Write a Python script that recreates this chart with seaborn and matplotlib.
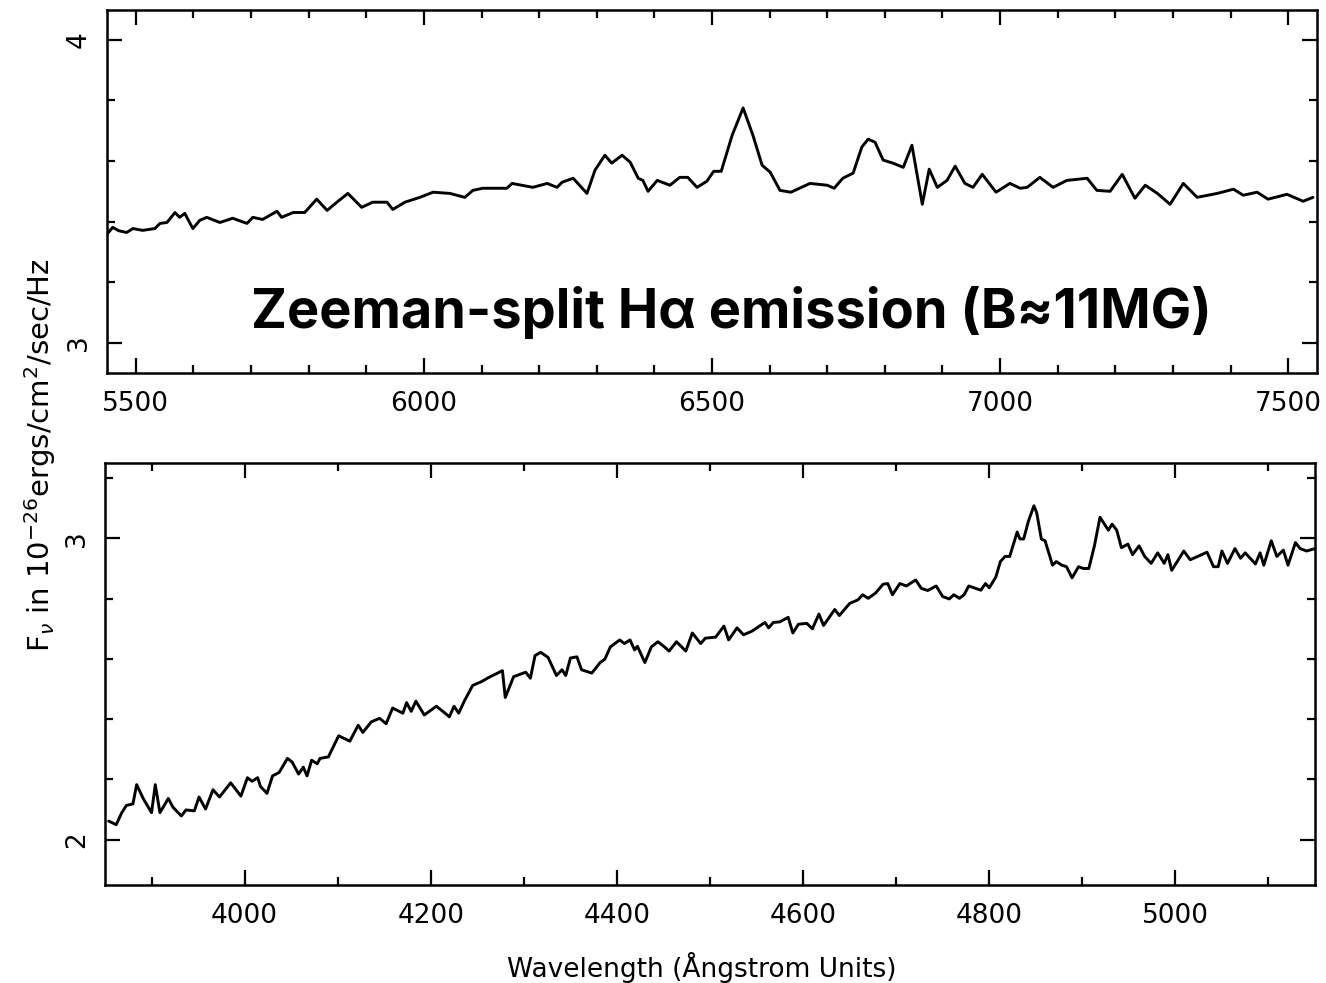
import matplotlib
matplotlib.use("Agg")
import matplotlib.pyplot as plt
import seaborn as sns
import pandas as pd
from matplotlib.ticker import MultipleLocator

# Red part of the spectrum (wavelength in Angstrom, F_nu in 1e-26 erg/cm^2/s/Hz)
red_wavelength = [
    5451, 5460, 5470, 5484, 5495, 5512, 5533, 5542, 5554, 5568, 5576, 5585,
    5599, 5611, 5623, 5646, 5668, 5693, 5703, 5720, 5745, 5753, 5773, 5793,
    5814, 5832, 5849, 5868, 5892, 5911, 5936, 5946, 5967, 5993, 6016, 6045,
    6071, 6085, 6102, 6144, 6153, 6189, 6214, 6231, 6240, 6259, 6283, 6297,
    6314, 6326, 6344, 6358, 6372, 6380, 6389, 6405, 6427, 6444, 6458, 6474,
    6491, 6503, 6516, 6535, 6554, 6571, 6587, 6601, 6618, 6637, 6670, 6700,
    6712, 6727, 6745, 6760, 6771, 6783, 6797, 6814, 6832, 6847, 6865, 6877,
    6891, 6908, 6922, 6939, 6953, 6969, 6993, 7017, 7035, 7047, 7069, 7092,
    7116, 7151, 7168, 7191, 7212, 7234, 7252, 7273, 7295, 7318, 7342, 7377,
    7405, 7422, 7446, 7465, 7498, 7526, 7543,
]
red_flux = [
    3.361, 3.381, 3.370, 3.364, 3.377, 3.371, 3.377, 3.394, 3.397, 3.430, 3.414, 3.427,
    3.377, 3.404, 3.414, 3.397, 3.411, 3.394, 3.414, 3.407, 3.434, 3.414, 3.430, 3.430,
    3.474, 3.437, 3.464, 3.493, 3.447, 3.464, 3.464, 3.440, 3.464, 3.480, 3.497, 3.493,
    3.480, 3.503, 3.510, 3.510, 3.526, 3.513, 3.526, 3.513, 3.530, 3.543, 3.493, 3.570,
    3.619, 3.593, 3.619, 3.596, 3.543, 3.536, 3.500, 3.536, 3.520, 3.546, 3.546, 3.513,
    3.533, 3.566, 3.566, 3.685, 3.775, 3.685, 3.586, 3.563, 3.503, 3.497, 3.526, 3.520,
    3.510, 3.543, 3.560, 3.646, 3.672, 3.662, 3.603, 3.593, 3.579, 3.652, 3.457, 3.573,
    3.513, 3.536, 3.583, 3.526, 3.513, 3.556, 3.497, 3.526, 3.510, 3.513, 3.546, 3.513,
    3.536, 3.543, 3.503, 3.500, 3.556, 3.477, 3.520, 3.493, 3.457, 3.526, 3.480, 3.493,
    3.507, 3.487, 3.497, 3.474, 3.490, 3.467, 3.480,
]

# Blue part of the spectrum
blue_wavelength = [
    3854, 3862, 3868, 3873, 3880, 3884, 3891, 3900, 3904, 3909, 3918, 3923,
    3932, 3937, 3946, 3951, 3958, 3966, 3973, 3985, 3996, 4003, 4008, 4014,
    4017, 4024, 4030, 4037, 4046, 4051, 4058, 4063, 4067, 4072, 4078, 4081,
    4090, 4101, 4113, 4122, 4127, 4136, 4145, 4152, 4159, 4170, 4174, 4179,
    4184, 4193, 4206, 4213, 4220, 4225, 4230, 4236, 4245, 4254, 4262, 4277,
    4280, 4289, 4302, 4307, 4312, 4318, 4326, 4335, 4341, 4345, 4350, 4357,
    4362, 4373, 4382, 4387, 4393, 4403, 4408, 4414, 4419, 4422, 4430, 4437,
    4444, 4451, 4456, 4464, 4474, 4481, 4490, 4495, 4506, 4515, 4520, 4529,
    4536, 4545, 4559, 4563, 4568, 4575, 4584, 4589, 4595, 4604, 4610, 4617,
    4622, 4634, 4639, 4650, 4659, 4664, 4670, 4678, 4686, 4691, 4696, 4704,
    4711, 4721, 4727, 4734, 4743, 4750, 4757, 4762, 4768, 4773, 4778, 4791,
    4796, 4800, 4807, 4812, 4817, 4822, 4830, 4833, 4837, 4842, 4848, 4851,
    4856, 4860, 4868, 4872, 4878, 4883, 4889, 4896, 4901, 4907, 4913, 4919,
    4928, 4932, 4937, 4942, 4949, 4954, 4961, 4967, 4974, 4981, 4988, 4992,
    4996, 5002, 5009, 5016, 5034, 5041, 5046, 5050, 5056, 5064, 5070, 5075,
    5086, 5091, 5095, 5103, 5109, 5116, 5121, 5129, 5134, 5141, 5150,
]
blue_flux = [
    2.062, 2.050, 2.090, 2.114, 2.119, 2.183, 2.137, 2.090, 2.183, 2.090, 2.137, 2.108,
    2.079, 2.099, 2.096, 2.142, 2.102, 2.166, 2.142, 2.189, 2.145, 2.206, 2.194, 2.206,
    2.177, 2.154, 2.212, 2.223, 2.270, 2.258, 2.218, 2.241, 2.212, 2.264, 2.252, 2.270,
    2.275, 2.345, 2.327, 2.380, 2.356, 2.391, 2.403, 2.385, 2.437, 2.420, 2.455, 2.426,
    2.460, 2.414, 2.443, 2.426, 2.408, 2.443, 2.420, 2.460, 2.512, 2.524, 2.538, 2.561,
    2.472, 2.541, 2.556, 2.536, 2.611, 2.622, 2.605, 2.545, 2.564, 2.545, 2.603, 2.607,
    2.564, 2.553, 2.588, 2.599, 2.640, 2.663, 2.651, 2.663, 2.630, 2.642, 2.588, 2.640,
    2.657, 2.640, 2.626, 2.657, 2.626, 2.686, 2.651, 2.669, 2.672, 2.709, 2.663, 2.703,
    2.680, 2.692, 2.721, 2.703, 2.721, 2.723, 2.738, 2.686, 2.715, 2.718, 2.700, 2.749,
    2.711, 2.764, 2.744, 2.784, 2.796, 2.813, 2.801, 2.819, 2.848, 2.850, 2.813, 2.850,
    2.842, 2.862, 2.834, 2.827, 2.842, 2.807, 2.799, 2.813, 2.801, 2.813, 2.842, 2.828,
    2.850, 2.836, 2.871, 2.923, 2.940, 2.940, 3.021, 2.998, 2.998, 3.056, 3.108, 3.085,
    2.998, 2.992, 2.911, 2.923, 2.911, 2.906, 2.869, 2.906, 2.900, 2.900, 2.975, 3.070,
    3.027, 3.047, 3.027, 2.969, 2.981, 2.946, 2.975, 2.940, 2.917, 2.952, 2.917, 2.946,
    2.894, 2.923, 2.958, 2.929, 2.954, 2.906, 2.906, 2.958, 2.917, 2.966, 2.934, 2.952,
    2.915, 2.952, 2.911, 2.992, 2.940, 2.961, 2.911, 2.986, 2.966, 2.958, 2.966,
]

annotation = "Zeeman-split H\u03b1 emission (B\u224811MG)"
y_label = r"F$_\nu$ in 10$^{-26}$ergs/cm$^2$/sec/Hz"
x_label = "Wavelength (\u00c5ngstrom Units)"

sns.set_style("ticks")
plt.rcParams["font.family"] = ["DejaVu Sans"]
plt.rcParams["mathtext.fontset"] = "dejavusans"
for key in ("text.color", "axes.labelcolor", "xtick.color", "ytick.color",
            "axes.edgecolor"):
    plt.rcParams[key] = "black"

red = pd.DataFrame({"wavelength": red_wavelength, "flux": red_flux})
blue = pd.DataFrame({"wavelength": blue_wavelength, "flux": blue_flux})

fig = plt.figure(figsize=(13.26, 9.83), dpi=100)
fig.patch.set_facecolor("white")
ax1 = fig.add_axes([0.0807, 0.6205, 0.9125, 0.3698])
ax2 = fig.add_axes([0.0792, 0.0997, 0.9125, 0.4293])

line_kw = dict(color="black", linewidth=2.1, estimator=None, sort=False)
sns.lineplot(data=red, x="wavelength", y="flux", ax=ax1, **line_kw)
sns.lineplot(data=blue, x="wavelength", y="flux", ax=ax2, **line_kw)

ax1.set_xlim(5450, 7550)
ax1.set_ylim(2.9, 4.1)
ax1.xaxis.set_major_locator(MultipleLocator(500))
ax1.xaxis.set_minor_locator(MultipleLocator(100))
ax1.yaxis.set_major_locator(MultipleLocator(1))
ax1.yaxis.set_minor_locator(MultipleLocator(0.2))

ax2.set_xlim(3850, 5150)
ax2.set_ylim(1.85, 3.25)
ax2.xaxis.set_major_locator(MultipleLocator(200))
ax2.xaxis.set_minor_locator(MultipleLocator(100))
ax2.yaxis.set_major_locator(MultipleLocator(1))
ax2.yaxis.set_minor_locator(MultipleLocator(0.2))

for ax in (ax1, ax2):
    ax.set_xlabel("")
    ax.set_ylabel("")
    ax.set_facecolor("white")
    for sp in ax.spines.values():
        sp.set_visible(True)
        sp.set_linewidth(1.8)
        sp.set_color("black")
    ax.tick_params(which="both", direction="in", top=True, right=True,
                   width=1.6, color="black", labelsize=19, labelcolor="black",
                   pad=13)
    ax.tick_params(which="major", length=11)
    ax.tick_params(which="minor", length=6)
    ax.tick_params(axis="y", labelrotation=90, pad=11)
    for lab in ax.get_yticklabels():
        lab.set_va("center")

ax1.text(0.516, 0.124, annotation, transform=ax1.transAxes, ha="center",
         va="baseline", fontsize=39, fontweight="bold",
         family=["Inter", "DejaVu Sans"], color="black")

fig.text(0.030, 1 - 455 / 983, y_label, rotation=90, ha="center", va="center",
         fontsize=21)
fig.text(702 / 1326, 1 - 967 / 983, x_label, ha="center", va="center",
         fontsize=19)

fig.savefig("out.png", dpi=100, facecolor="white")
